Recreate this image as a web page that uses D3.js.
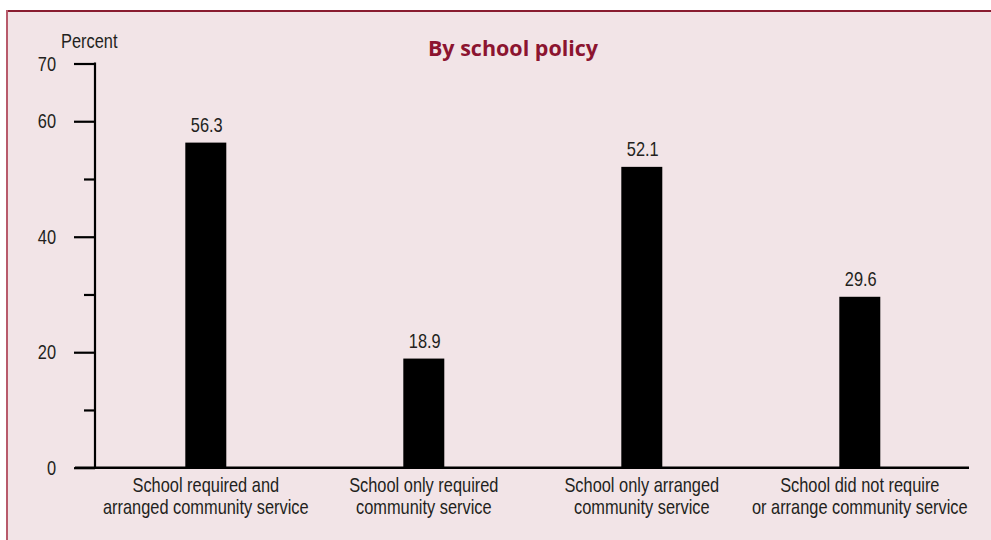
<!DOCTYPE html>
<html>
<head>
<meta charset="utf-8">
<script src="https://cdn.jsdelivr.net/npm/d3@7"></script>
<style>
  html, body { margin: 0; padding: 0; background: #ffffff; }
  svg { display: block; }
  text { font-family: "Liberation Sans", Arial, sans-serif; fill: #231f20; }
</style>
</head>
<body>
<svg id="chart" width="991" height="540"></svg>
<script>
// Share of students by school community-service policy
const categories = [
  ["School required and", "arranged community service"],
  ["School only required", "community service"],
  ["School only arranged", "community service"],
  ["School did not require", "or arrange community service"]
];
const values = [56.3, 18.9, 52.1, 29.6];
const majorTicks = [0, 20, 40, 60, 70];
const minorTicks = [10, 30, 50];
const titleText = "By school policy";
const yAxisLabel = "Percent";

const svg = d3.select("#chart");
const W = 991, H = 540;
const NARROW = 0.82;     // horizontal squeeze giving a narrow face
const FS = 20;           // label font size

// Place a text at (px, py) drawn in a condensed face
function narrowText(parent, px, py, str, anchor) {
  return parent.append("text")
    .attr("transform", `translate(${px},${py}) scale(${NARROW},1)`)
    .attr("text-anchor", anchor || "start")
    .style("font-size", FS + "px")
    .text(str);
}

// Panel background and frame
svg.append("rect").attr("x", 7).attr("y", 11).attr("width", W - 7).attr("height", H - 11)
  .attr("fill", "#f2e4e7");
svg.append("line").attr("x1", 7).attr("x2", W).attr("y1", 11).attr("y2", 11)
  .attr("stroke", "#8a1c30").attr("stroke-width", 2);
svg.append("line").attr("x1", 7).attr("x2", 7).attr("y1", 10).attr("y2", H)
  .attr("stroke", "#b85a6b").attr("stroke-width", 2);

const axisX = 95;
const y = d3.scaleLinear().domain([0, 70]).range([467.7, 63.5]);
const x = d3.scaleBand().domain(d3.range(values.length)).range([96.8, 968.8])
  .paddingInner(0.812).paddingOuter(0.406);

// Title
svg.append("text").attr("x", 513).attr("y", 56).attr("text-anchor", "middle")
  .style("font-family", "'Open Sans', 'Liberation Sans', sans-serif")
  .style("font-weight", "700").style("font-size", "21.5px").style("fill", "#8c1430")
  .text(titleText);

// Axis title
narrowText(svg, 61, 48, yAxisLabel);

// Bars
svg.append("g").selectAll("rect").data(values).join("rect")
  .attr("x", (d, i) => x(i)).attr("width", x.bandwidth())
  .attr("y", d => y(d)).attr("height", d => y(0) - y(d))
  .attr("fill", "#000000");

// Value labels
const gVal = svg.append("g");
values.forEach((d, i) => {
  narrowText(gVal, x(i) + x.bandwidth() / 2 + 1, y(d) - 11, d.toFixed(1), "middle");
});

// Y axis: major ticks (labels drawn separately in the narrow face)
const gMajor = svg.append("g").attr("transform", `translate(${axisX},0)`)
  .call(d3.axisLeft(y).tickValues(majorTicks).tickSize(21).tickFormat(""));
gMajor.select(".domain").remove();
gMajor.selectAll(".tick line").attr("stroke", "#000").attr("stroke-width", 2.2);
const gTickLab = svg.append("g");
majorTicks.forEach(t => {
  narrowText(gTickLab, axisX - 39, y(t) + 7, d3.format("d")(t), "end");
});

// Y axis: minor ticks
const gMinor = svg.append("g").attr("transform", `translate(${axisX},0)`)
  .call(d3.axisLeft(y).tickValues(minorTicks).tickSize(11).tickFormat(""));
gMinor.select(".domain").remove();
gMinor.selectAll(".tick line").attr("stroke", "#000").attr("stroke-width", 2.2);

// Vertical axis line
svg.append("line").attr("x1", axisX).attr("x2", axisX).attr("y1", y(70) - 1).attr("y2", y(0))
  .attr("stroke", "#000").attr("stroke-width", 2.2);

// Baseline
svg.append("line").attr("x1", 75).attr("x2", 969).attr("y1", y(0)).attr("y2", y(0))
  .attr("stroke", "#000").attr("stroke-width", 2.6);

// Category labels (two lines each)
const gCat = svg.append("g");
categories.forEach((lines, i) => {
  const t = narrowText(gCat, x(i) + x.bandwidth() / 2, 492, null, "middle");
  lines.forEach((ln, j) => {
    t.append("tspan").attr("x", 0).attr("y", j * 22).text(ln);
  });
});
</script>
</body>
</html>
